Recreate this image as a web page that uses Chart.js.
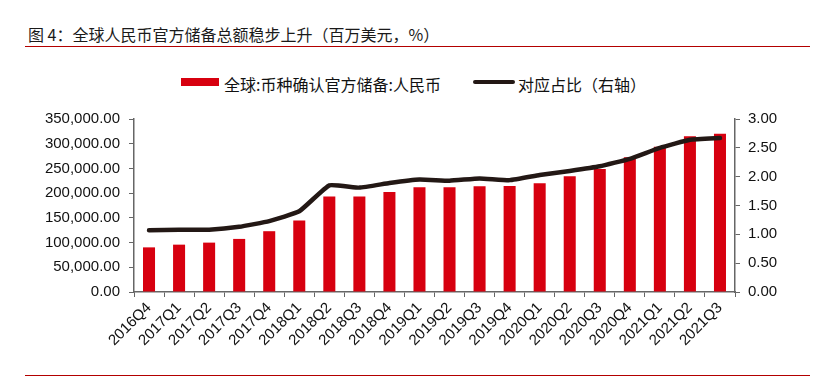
<!DOCTYPE html>
<html>
<head>
<meta charset="utf-8">
<script src="https://cdn.jsdelivr.net/npm/chart.js@4"></script>
<style>
    body { margin: 0; background: #fff; }
    #wrap { position: relative; width: 827px; height: 384px; overflow: hidden; }
    #title {
        position: absolute; left: 28px; top: 24px;
        font: 16px "Noto Sans CJK SC", sans-serif; color: #1a1a1a;
        white-space: nowrap; line-height: 20px;
    }
    .rule { position: absolute; left: 25px; width: 785px; height: 1px; background: #b30000; }
    .legend {
        position: absolute; top: 72px; height: 20px; line-height: 20px;
        font: 16px "Noto Sans CJK SC", sans-serif; color: #111; white-space: nowrap;
    }
    .swatch { position: absolute; }
    canvas { position: absolute; left: 0; top: 0; }
</style>
</head>
<body>
<div id="wrap">
    <div id="title">图 4：全球人民币官方储备总额稳步上升（百万美元，%）</div>
    <div class="rule" style="top:46px"></div>
    <div class="rule" style="top:375px"></div>

    <div class="swatch" style="left:181px; top:78px; width:38px; height:8px; background:#d7000f"></div>
    <div class="legend" style="left:224px">全球:币种确认官方储备:人民币</div>
    <div class="swatch" style="left:473px; top:80px; width:42px; height:4px; border-radius:2px; background:#231815"></div>
    <div class="legend" style="left:518px">对应占比（右轴）</div>

    <canvas id="chart" width="827" height="384"></canvas>
</div>

<script>
const quarters = [
    "2016Q4", "2017Q1", "2017Q2", "2017Q3", "2017Q4",
    "2018Q1", "2018Q2", "2018Q3", "2018Q4",
    "2019Q1", "2019Q2", "2019Q3", "2019Q4",
    "2020Q1", "2020Q2", "2020Q3", "2020Q4",
    "2021Q1", "2021Q2", "2021Q3"
];

// 全球:币种确认官方储备:人民币 (百万美元)
const rmbReserves = [
    90300, 95800, 99900, 107400, 123000,
    144700, 193000, 193000, 202400,
    212000, 212000, 214000, 214500,
    220100, 234400, 248700, 272500,
    294000, 315300, 320000
];

// 对应占比 (%)
const rmbShare = [
    1.07, 1.08, 1.08, 1.13, 1.23,
    1.40, 1.85, 1.81, 1.89,
    1.95, 1.93, 1.97, 1.94,
    2.03, 2.10, 2.18, 2.31,
    2.50, 2.64, 2.67
];

const leftTicks = { min: 0, max: 350000, step: 50000 };
const rightTicks = { min: 0, max: 3, step: 0.5 };

const axisColor = "#666";
const tickFont = { family: "'Liberation Sans', Arial, sans-serif", size: 15 };

new Chart(document.getElementById("chart"), {
    type: "bar",
    data: {
        labels: quarters,
        datasets: [
            {
                type: "line",
                label: "对应占比（右轴）",
                data: rmbShare,
                yAxisID: "y1",
                borderColor: "#231815",
                borderWidth: 4.5,
                borderCapStyle: "round",
                borderJoinStyle: "round",
                tension: 0.12,
                pointRadius: 0,
                fill: false,
                order: 0
            },
            {
                label: "全球:币种确认官方储备:人民币",
                data: rmbReserves,
                yAxisID: "y",
                backgroundColor: "#d7000f",
                barPercentage: 0.4,
                categoryPercentage: 1,
                order: 1
            }
        ]
    },
    options: {
        responsive: false,
        animation: false,
        layout: { padding: { top: 119, left: 0, right: 0, bottom: 0 } },
        plugins: {
            legend: { display: false },
            tooltip: { enabled: false }
        },
        scales: {
            x: {
                grid: {
                    offset: true,
                    drawOnChartArea: false,
                    color: axisColor,
                    tickLength: 5
                },
                border: { color: axisColor, width: 1.5 },
                ticks: {
                    color: "#111",
                    font: tickFont,
                    minRotation: 45,
                    maxRotation: 45,
                    autoSkip: false,
                    padding: 2
                },
                afterFit: s => { s.height = 92; }
            },
            y: {
                position: "left",
                min: leftTicks.min,
                max: leftTicks.max,
                grid: { drawOnChartArea: false, color: axisColor, tickLength: 5 },
                border: { color: axisColor, width: 1.5 },
                ticks: {
                    stepSize: leftTicks.step,
                    color: "#111",
                    font: tickFont,
                    padding: 9,
                    callback: v => v.toLocaleString("en-US", { minimumFractionDigits: 2, maximumFractionDigits: 2 })
                },
                afterFit: s => { s.width = 134; }
            },
            y1: {
                position: "right",
                min: rightTicks.min,
                max: rightTicks.max,
                grid: { drawOnChartArea: false, color: axisColor, tickLength: 5 },
                border: { color: axisColor, width: 1.5 },
                ticks: {
                    stepSize: rightTicks.step,
                    color: "#111",
                    font: tickFont,
                    padding: 8,
                    callback: v => v.toFixed(2)
                },
                afterFit: s => { s.width = 92; }
            }
        }
    }
});
</script>
</body>
</html>
